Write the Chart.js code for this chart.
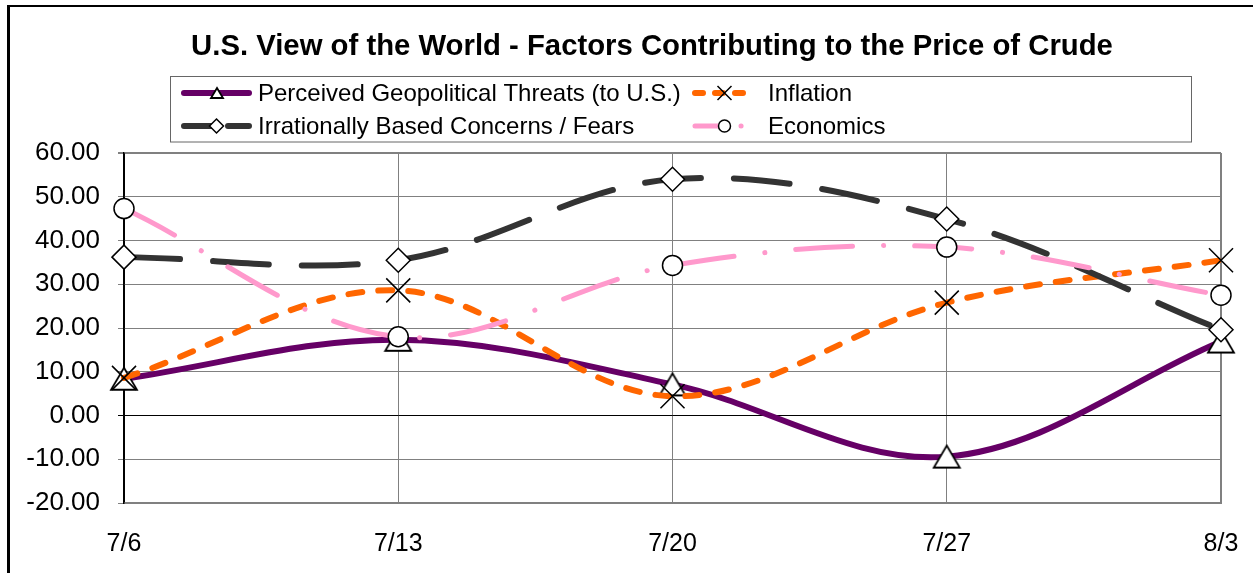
<!DOCTYPE html>
<html>
<head>
<meta charset="utf-8">
<script src="https://cdn.jsdelivr.net/npm/chart.js@4.4.1/dist/chart.umd.min.js"></script>
<style>
  html, body { margin: 0; padding: 0; background: #fff; overflow: hidden; }
  #frame { position: absolute; left: 7px; top: 5px; width: 1400px; height: 700px;
           border-left: 3px solid #000; border-top: 2px solid #000; }
  #wrap { position: absolute; left: 0; top: 0; width: 1253px; height: 573px; }
</style>
</head>
<body>
<div id="frame"></div>
<div id="wrap"><canvas id="chart"></canvas></div>
<script>
// week dates on the x axis
const dates = ["7/6", "7/13", "7/20", "7/27", "8/3"];

// series values
const geopolitical = [8.4, 17.3, 7.1, -9.4, 16.9];
const inflation = [8.6, 28.6, 4.4, 25.8, 35.5];
const irrational = [36.2, 35.5, 54.0, 44.9, 19.6];
const economics = [47.3, 18.0, 34.3, 38.5, 27.5];

const seriesNames = [
  "Perceived Geopolitical Threats (to U.S.)",
  "Inflation",
  "Irrationally Based Concerns / Fears",
  "Economics"
];

const chartTitle = "U.S. View of the World - Factors Contributing to the Price of Crude";

const yMin = -20, yMax = 60, yStep = 10;

const FONT = "Arial, 'Liberation Sans', sans-serif";

// excel-style triangle, centred on its box rather than its circumcentre
function triangleMarker(w, h) {
  const c = document.createElement("canvas");
  c.width = w + 4; c.height = h + 4;
  const g = c.getContext("2d");
  g.lineWidth = 1.8;
  g.strokeStyle = "#000";
  g.fillStyle = "#fff";
  g.beginPath();
  g.moveTo(c.width / 2, 2);
  g.lineTo(c.width - 2, c.height - 2);
  g.lineTo(2, c.height - 2);
  g.closePath();
  g.fill(); g.stroke();
  return c;
}
const bigTriangle = triangleMarker(26, 22);
const smallTriangle = triangleMarker(12, 10);

function series(label, data, color, width, dash, marker, radius, order) {
  return {
    label, data,
    borderColor: color,
    borderWidth: width,
    borderDash: dash,
    borderCapStyle: "round",
    borderJoinStyle: "round",
    tension: 0.35,
    pointStyle: marker,
    pointRadius: radius,
    pointHoverRadius: radius,
    pointBackgroundColor: "#fff",
    pointBorderColor: "#000",
    pointBorderWidth: 1.5,
    fill: false,
    clip: false,
    order
  };
}

const datasets = [
  series(seriesNames[0], geopolitical, "#660066", 6, [], bigTriangle, 14, 4),
  series(seriesNames[1], inflation, "#FF6600", 6, [14, 16], "crossRot", 17, 3),
  series(seriesNames[2], irrational, "#333333", 6, [56, 33], "rectRot", 12, 2),
  series(seriesNames[3], economics, "#FF99CC", 5, [57, 31, 0.1, 31], "circle", 10, 1)
];

// small marker shapes for the legend
function legendMarker(ctx, style, x, y) {
  ctx.save();
  ctx.lineWidth = 1.5;
  ctx.strokeStyle = "#000";
  ctx.fillStyle = "#fff";
  ctx.beginPath();
  if (style === bigTriangle) {
    ctx.drawImage(smallTriangle, Math.round(x - smallTriangle.width / 2), Math.round(y - smallTriangle.height / 2));
  } else if (style === "crossRot") {
    ctx.moveTo(x - 7, y - 7); ctx.lineTo(x + 7, y + 7);
    ctx.moveTo(x + 7, y - 7); ctx.lineTo(x - 7, y + 7);
    ctx.stroke();
  } else if (style === "rectRot") {
    ctx.moveTo(x, y - 7); ctx.lineTo(x + 7, y); ctx.lineTo(x, y + 7); ctx.lineTo(x - 7, y); ctx.closePath();
    ctx.fill(); ctx.stroke();
  } else {
    ctx.arc(x, y, 6, 0, Math.PI * 2);
    ctx.fill(); ctx.stroke();
  }
  ctx.restore();
}

const titleAndLegend = {
  id: "titleAndLegend",
  afterDraw(chart) {
    const ctx = chart.ctx;
    ctx.save();
    ctx.fillStyle = "#000";
    ctx.font = "bold 29.3px " + FONT;
    ctx.textAlign = "center";
    ctx.textBaseline = "middle";
    ctx.fillText(chartTitle, 652, 47);

    ctx.strokeStyle = "#666";
    ctx.lineWidth = 1;
    ctx.strokeRect(170.5, 76.5, 1021, 65.5);
    const cols = [{ x0: 181, x1: 252, tx: 258 }, { x0: 692, x1: 757, tx: 768 }];
    const rows = [93, 126];
    const slots = [[0, 0], [1, 0], [0, 1], [1, 1]];
    chart.data.datasets.forEach((ds, i) => {
      const c = cols[slots[i][0]];
      const y = rows[slots[i][1]];
      ctx.save();
      ctx.strokeStyle = ds.borderColor;
      ctx.lineWidth = ds.borderWidth;
      ctx.lineCap = "round";
      ctx.setLineDash(i === 1 ? [8, 12] : i === 2 ? [28, 16] : i === 3 ? [28, 18, 0.1, 18] : []);
      ctx.beginPath();
      ctx.moveTo(c.x0 + 3, y);
      ctx.lineTo(c.x1 - 3, y);
      ctx.stroke();
      ctx.restore();
      legendMarker(ctx, ds.pointStyle, (c.x0 + c.x1) / 2, y);
      ctx.fillStyle = "#000";
      ctx.font = "24px " + FONT;
      ctx.textBaseline = "middle";
      ctx.textAlign = "left";
      ctx.fillText(ds.label, c.tx, y + 1);
    });
    ctx.restore();
  }
};

new Chart(document.getElementById("chart"), {
  type: "line",
  data: { labels: dates, datasets },
  plugins: [titleAndLegend],
  options: {
    responsive: true,
    maintainAspectRatio: false,
    animation: false,
    layout: { padding: { top: 153, right: 32, left: 0, bottom: 0 } },
    plugins: {
      legend: { display: false },
      tooltip: { enabled: false },
      title: { display: false }
    },
    scales: {
      x: {
        offset: false,
        grid: {
          color: ctx => ctx.index === 0 ? "#000" : "#808080",
          lineWidth: ctx => ctx.index === dates.length - 1 ? 2 : 1,
          drawTicks: false
        },
        border: { color: "#808080", width: 2 },
        ticks: {
          color: "#000",
          font: { family: FONT, size: 25 },
          padding: 26,
          maxRotation: 0,
          autoSkip: false
        },
        afterFit: s => { s.height = 70; s.paddingLeft = 0; s.paddingRight = 0; }
      },
      y: {
        min: yMin,
        max: yMax,
        grid: {
          color: ctx => ctx.tick && ctx.tick.value === 0 ? "#000" : "#808080",
          lineWidth: ctx => ctx.tick && ctx.tick.value === yMax ? 2 : 1,
          tickLength: 6
        },
        border: { color: "#000", width: 1.5 },
        ticks: {
          stepSize: yStep,
          color: "#000",
          font: { family: FONT, size: 26 },
          padding: 18,
          callback: v => v.toFixed(2)
        },
        afterFit: s => { s.width = 124; }
      }
    }
  }
});
</script>
</body>
</html>
